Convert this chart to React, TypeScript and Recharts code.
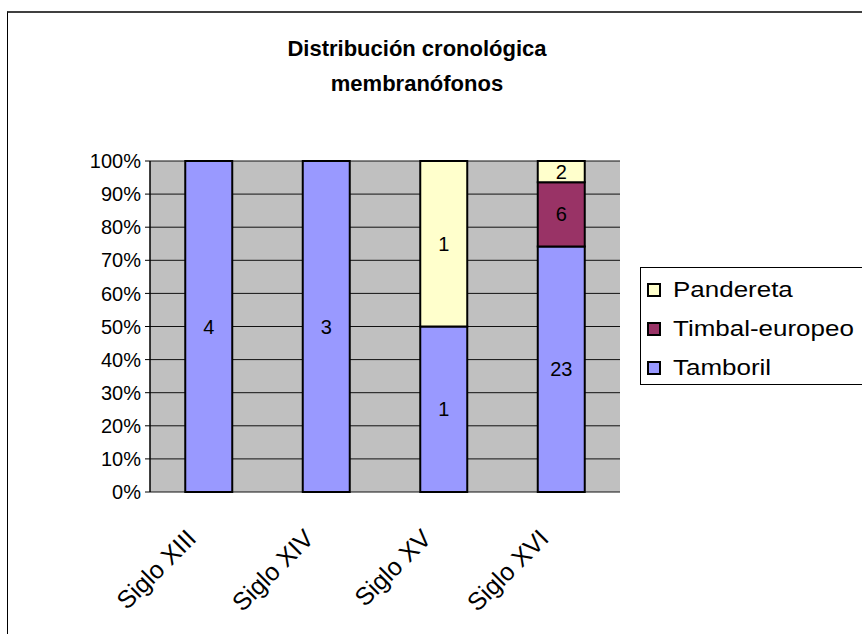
import React from "react";
import {
  BarChart,
  Bar,
  XAxis,
  YAxis,
  CartesianGrid,
  Legend,
  LabelList,
} from "recharts";

const CATEGORIES = ["Siglo XIII", "Siglo XIV", "Siglo XV", "Siglo XVI"];
const TAMBORIL = [4, 3, 1, 23];
const TIMBAL = [0, 0, 0, 6];
const PANDERETA = [0, 0, 1, 2];
const Y_TICKS = [0, 0.1, 0.2, 0.3, 0.4, 0.5, 0.6, 0.7, 0.8, 0.9, 1];
const EDGE_TICKS = [0, 1, 2, 3, 4];

const SERIES = [
  { key: "tamboril", name: "Tamboril", color: "#9999FF" },
  { key: "timbal", name: "Timbal-europeo", color: "#993366" },
  { key: "pandereta", name: "Pandereta", color: "#FFFFCC" },
];

const DATA = CATEGORIES.map((name, i) => ({
  name,
  tamboril: TAMBORIL[i],
  timbal: TIMBAL[i],
  pandereta: PANDERETA[i],
}));

const FONT = "Arial, 'Liberation Sans', sans-serif";

const XTick = ({ x, y, payload }: any) => {
  const ax = x - 11;
  const ay = y + 40;
  return (
    <text
      x={ax}
      y={ay}
      transform={`rotate(-45, ${ax}, ${ay})`}
      textAnchor="end"
      fontSize={25}
      fontFamily={FONT}
      fill="#000"
    >
      {payload.value}
    </text>
  );
};

const LegendBox = () => (
  <div
    style={{
      border: "1px solid #000",
      background: "#fff",
      padding: "2px 0 0 6px",
      width: 250,
      height: 118,
      boxSizing: "border-box",
      fontFamily: FONT,
      color: "#000",
    }}
  >
    {[...SERIES].reverse().map((s) => (
      <div key={s.key} style={{ display: "flex", alignItems: "center", height: 39 }}>
        <span
          style={{
            width: 10,
            height: 10,
            border: "2px solid #000",
            background: s.color,
            marginRight: 12,
            flex: "none",
          }}
        />
        <span
          style={{
            fontSize: 22,
            lineHeight: "39px",
            display: "inline-block",
            transform: "scaleX(1.18)",
            transformOrigin: "left center",
            whiteSpace: "nowrap",
          }}
        >
          {s.name}
        </span>
      </div>
    ))}
  </div>
);

const hideZero = (v: any) => (v ? v : "");

export default function App() {
  return (
    <div
      style={{
        position: "fixed",
        left: 0,
        top: 0,
        width: 862,
        height: 634,
        overflow: "hidden",
        background: "#fff",
      }}
    >
      {/* chart frame */}
      <div
        style={{
          position: "absolute",
          left: 7,
          top: 11,
          width: 1000,
          height: 1000,
          borderTop: "2px solid #404040",
          borderLeft: "1px solid #000",
        }}
      />
      <div
        style={{
          position: "absolute",
          left: 0,
          width: 834,
          top: 31,
          textAlign: "center",
          fontFamily: FONT,
          fontWeight: "bold",
          fontSize: 22,
          lineHeight: "35px",
          color: "#000",
        }}
      >
        Distribución cronológica
        <br />
        membranófonos
      </div>
      <div style={{ position: "absolute", left: 0, top: 0 }}>
        <BarChart
          width={862}
          height={634}
          data={DATA}
          stackOffset="expand"
          barCategoryGap="30%"
          margin={{ top: 161, right: 242, bottom: 42, left: 70 }}
        >
          <CartesianGrid
            xAxisId="cat"
            yAxisId="pct"
            vertical={false}
            stroke="#111"
            fill="#C0C0C0"
            fillOpacity={1}
          />
          <XAxis
            xAxisId="edges"
            type="number"
            domain={[0, 4]}
            ticks={EDGE_TICKS}
            height={0}
            tick={false}
            tickSize={6}
            tickLine={{ stroke: "#000" }}
            axisLine={{ stroke: "#000", strokeWidth: 1.5 }}
          />
          <XAxis
            xAxisId="cat"
            dataKey="name"
            height={100}
            interval={0}
            axisLine={false}
            tickLine={false}
            tick={<XTick />}
          />
          <XAxis
            xAxisId="top"
            orientation="top"
            height={0}
            tick={false}
            tickLine={false}
            axisLine={{ stroke: "#808080", strokeWidth: 2 }}
          />
          <YAxis
            yAxisId="pct"
            domain={[0, 1]}
            ticks={Y_TICKS}
            width={80}
            tickSize={5}
            tickMargin={4}
            tickFormatter={(v: number) => `${Math.round(v * 100)}%`}
            axisLine={{ stroke: "#000", strokeWidth: 1.5 }}
            tickLine={{ stroke: "#000" }}
            tick={{ fill: "#000", fontSize: 20, fontFamily: FONT }}
          />
          <YAxis
            yAxisId="right"
            orientation="right"
            width={0}
            tick={false}
            tickLine={false}
            axisLine={{ stroke: "#808080", strokeWidth: 2 }}
          />
          <Legend
            layout="vertical"
            align="center"
            verticalAlign="middle"
            content={() => <LegendBox />}
            wrapperStyle={{ left: 640, top: 267, width: 250 }}
          />
          {SERIES.map((s) => (
            <Bar
              key={s.key}
              xAxisId="cat"
              yAxisId="pct"
              dataKey={s.key}
              name={s.name}
              stackId="a"
              fill={s.color}
              stroke="#000"
              strokeWidth={2}
              isAnimationActive={false}
            >
              <LabelList
                dataKey={s.key}
                position="center"
                formatter={hideZero}
                fill="#000"
                fontSize={20}
                fontFamily={FONT}
              />
            </Bar>
          ))}
        </BarChart>
      </div>
    </div>
  );
}
